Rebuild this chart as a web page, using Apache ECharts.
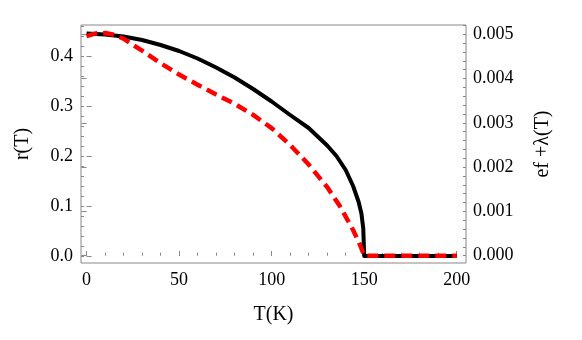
<!DOCTYPE html>
<html>
<head>
<meta charset="utf-8">
<script src="https://cdn.jsdelivr.net/npm/echarts@6/dist/echarts.min.js"></script>
<style>
  html, body { margin: 0; padding: 0; background: #fff; }
  #main { width: 582px; height: 340px; }
</style>
</head>
<body>
<div id="main"></div>
<script>
var chart = echarts.init(document.getElementById('main'));

// r(T), left axis
var tBlack = [0, 10, 20, 30, 40, 50, 60, 70, 80, 90, 100, 110, 120, 130, 135, 140, 144, 147, 148.5, 149.5, 150, 160, 170, 180, 190, 200];
var rBlack = [0.445, 0.443, 0.439, 0.432, 0.422, 0.410, 0.395, 0.377, 0.357, 0.334, 0.309, 0.282, 0.256, 0.221, 0.200, 0.172, 0.140, 0.108, 0.085, 0.055, 0.0, 0, 0, 0, 0, 0];
// ef + lambda(T), right axis
var tRed = [0, 5, 10, 15, 20, 30, 40, 50, 60, 70, 80, 90, 100, 110, 120, 130, 137, 144, 148, 150, 160, 170, 180, 190, 200];
var lRed = [0.00496, 0.00502, 0.00503, 0.00499, 0.00490, 0.00463, 0.00435, 0.00409, 0.00386, 0.00364, 0.00343, 0.00318, 0.00288, 0.00250, 0.00206, 0.00155, 0.00111, 0.00058, 0.00022, 0, 0, 0, 0, 0, 0];

var xMajor = [0, 50, 100, 150, 200];
var leftMajor = [0, 0.1, 0.2, 0.3, 0.4];
var rightMajor = [0, 0.001, 0.002, 0.003, 0.004, 0.005];

function steps(a, b, d) {
    var out = [];
    for (var i = 0; a + i * d <= b + d / 1000; i++) out.push(+(a + i * d).toFixed(6));
    return out;
}
var xMinor = steps(0, 200, 10);
var leftMinor = steps(0, 0.46, 0.02);
var rightMinor = steps(0, 0.0052, 0.0002);

var font = 'Liberation Serif';
var tickColor = '#888';
var labelStyle = { color: '#000', fontFamily: font, fontSize: 18 };
var nameStyle = { color: '#000', fontFamily: font, fontSize: 20 };

function minorAxis(base, vals) {
    return Object.assign({
        type: 'value',
        axisLine: { show: false },
        splitLine: { show: false },
        axisLabel: { show: false },
        axisTick: { inside: true, length: 3, lineStyle: { color: tickColor }, customValues: vals }
    }, base);
}

option = {
    animation: false,
    grid: { left: 81, right: 116, top: 25, bottom: 77, show: true, borderColor: tickColor, borderWidth: 1 },
    xAxis: [{
        type: 'value', min: -3, max: 205,
        name: 'T(K)', nameLocation: 'middle', nameGap: 42,
        nameTextStyle: nameStyle,
        axisLine: { show: false },
        splitLine: { show: false },
        axisTick: { inside: true, length: 5, lineStyle: { color: tickColor }, customValues: xMajor },
        axisLabel: Object.assign({ margin: 8, customValues: xMajor }, labelStyle)
    }, minorAxis({ min: -3, max: 205, position: 'bottom' }, xMinor)],
    yAxis: [{
        type: 'value', min: -0.014, max: 0.462, position: 'left',
        name: 'r(T)', nameLocation: 'middle', nameGap: 48,
        nameTextStyle: nameStyle,
        axisLine: { show: false },
        splitLine: { show: false },
        axisTick: { inside: true, length: 5, lineStyle: { color: tickColor }, customValues: leftMajor },
        axisLabel: Object.assign({ margin: 8, customValues: leftMajor, formatter: function (v) { return v.toFixed(1); } }, labelStyle)
    }, {
        type: 'value', min: -0.000165, max: 0.00521, position: 'right',
        name: 'ef +\u03bb(T)', nameLocation: 'middle', nameGap: 67,
        nameTextStyle: nameStyle,
        axisLine: { show: false },
        splitLine: { show: false },
        axisTick: { inside: true, length: 5, lineStyle: { color: tickColor }, customValues: rightMajor },
        axisLabel: Object.assign({ margin: 7, customValues: rightMajor, formatter: function (v) { return v.toFixed(3); } }, labelStyle)
    },
    minorAxis({ min: -0.014, max: 0.462, position: 'left' }, leftMinor),
    minorAxis({ min: -0.000165, max: 0.00521, position: 'right' }, rightMinor)],
    series: [{
        type: 'line',
        xAxisIndex: 0, yAxisIndex: 0,
        data: tBlack.map(function (t, i) { return [t, rBlack[i]]; }),
        showSymbol: false,
        smooth: false,
        lineStyle: { color: '#000', width: 4, join: 'round' },
        z: 2
    }, {
        type: 'line',
        xAxisIndex: 0, yAxisIndex: 1,
        data: tRed.map(function (t, i) { return [t, lRed[i]]; }),
        showSymbol: false,
        smooth: false,
        lineStyle: { color: '#f00', width: 4.5, type: [11, 6] },
        z: 3
    }]
};

chart.setOption(option);
</script>
</body>
</html>
